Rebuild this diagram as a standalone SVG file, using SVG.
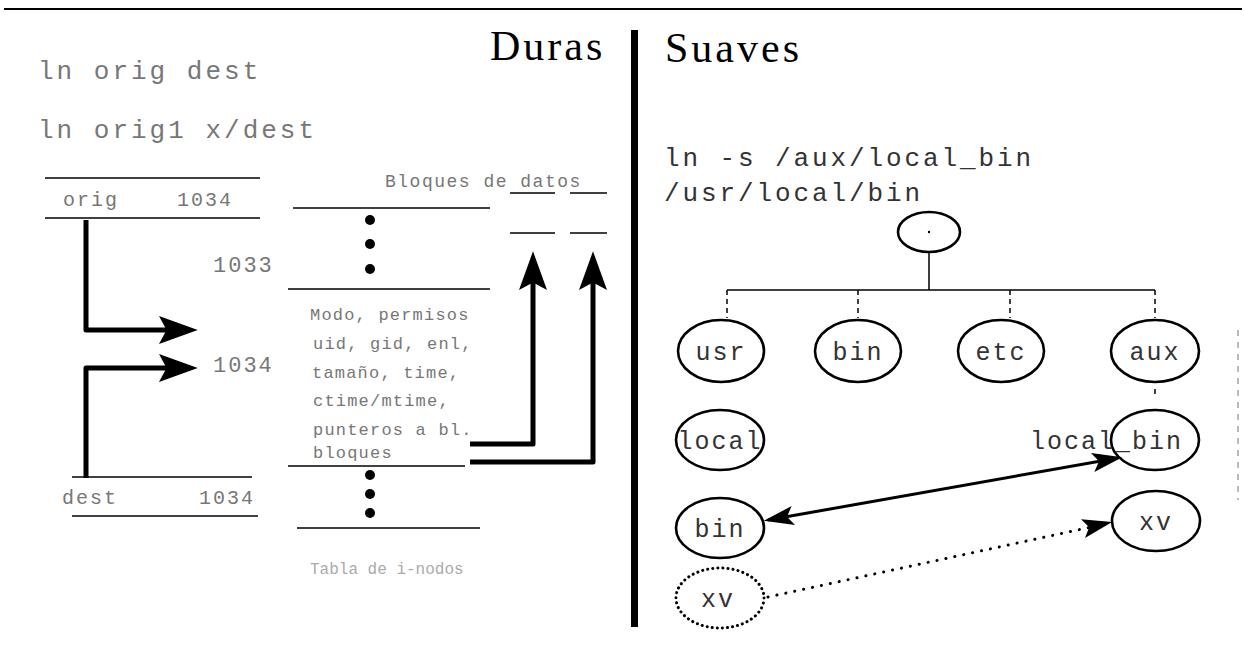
<svg xmlns="http://www.w3.org/2000/svg" width="1244" height="649" viewBox="0 0 1244 649">
<style>
.mono{font-family:"Liberation Mono","DejaVu Sans Mono",monospace;}
.faint{fill:#777;}
.title{font-family:"Liberation Serif","DejaVu Serif",serif;font-size:42px;letter-spacing:3px;fill:#000;}
.thin{stroke:#000;stroke-width:1.5;fill:none;}
.node{fill:#fff;stroke:#000;stroke-width:2.6;}
.lbl{font-family:"Liberation Mono","DejaVu Sans Mono",monospace;font-size:25px;letter-spacing:2px;fill:#333;text-anchor:middle;}
.thick{stroke:#000;stroke-width:5;fill:none;stroke-linejoin:round;}
</style>
<defs>
<marker id="big" markerUnits="userSpaceOnUse" markerWidth="40" markerHeight="28" viewBox="0 0 36 26" refX="26" refY="13" orient="auto">
<path d="M0,0 L36,13 L0,26 L7,13 z" fill="#000"/>
</marker>
<marker id="small" markerUnits="userSpaceOnUse" markerWidth="30" markerHeight="20" viewBox="0 0 28 18" refX="24" refY="9" orient="auto-start-reverse">
<path d="M0,0 L28,9 L0,18 L6,9 z" fill="#000"/>
</marker>
</defs>
<rect width="1244" height="649" fill="#fff"/>

<!-- frame -->
<line x1="4" y1="9" x2="1242" y2="9" stroke="#000" stroke-width="2"/>
<rect x="631" y="30" width="7" height="597" fill="#000"/>
<line x1="1238" y1="330" x2="1238" y2="500" stroke="#bbb" stroke-width="2" stroke-dasharray="6 6"/>

<!-- titles -->
<text class="title" x="490" y="60">Duras</text>
<text class="title" x="665" y="62">Suaves</text>

<!-- left: hard link -->
<g id="cmd-left">
<text class="mono faint" x="38" y="79" font-size="26" letter-spacing="3">ln orig dest</text>
<text class="mono faint" x="38" y="138" font-size="26" letter-spacing="3">ln orig1 x/dest</text>
</g>
<g id="dir-orig">
<line class="thin" x1="45" y1="178" x2="260" y2="178"/>
<line class="thin" x1="45" y1="218" x2="260" y2="218"/>
<text class="mono faint" x="63" y="206" font-size="20" letter-spacing="2">orig</text>
<text class="mono faint" x="233" y="206" font-size="20" letter-spacing="2" text-anchor="end">1034</text>
</g>
<g id="dir-dest">
<line class="thin" x1="72" y1="477" x2="252" y2="477"/>
<line class="thin" x1="72" y1="516" x2="258" y2="516"/>
<text class="mono faint" x="62" y="504" font-size="20" letter-spacing="2">dest</text>
<text class="mono faint" x="255" y="504" font-size="20" letter-spacing="2" text-anchor="end">1034</text>
</g>
<g id="inode-nums">
<text class="mono faint" x="213" y="272" font-size="22" letter-spacing="2">1033</text>
<text class="mono faint" x="213" y="372" font-size="22" letter-spacing="2">1034</text>
</g>
<g id="inode-table">
<line class="thin" x1="293" y1="208" x2="490" y2="208"/>
<circle cx="370" cy="220" r="5" fill="#000"/>
<circle cx="370" cy="244" r="5" fill="#000"/>
<circle cx="370" cy="269" r="5" fill="#000"/>
<line class="thin" x1="288" y1="289" x2="490" y2="289"/>
<g class="mono faint" font-size="17" letter-spacing="1.2">
<text x="310" y="320">Modo, permisos</text>
<text x="313" y="349">uid, gid, enl,</text>
<text x="312" y="378">tamaño, time,</text>
<text x="313" y="406">ctime/mtime,</text>
<text x="313" y="435">punteros a bl.</text>
<text x="313" y="458">bloques</text>
</g>
<line class="thin" x1="288" y1="466" x2="465" y2="466"/>
<circle cx="370" cy="475" r="5" fill="#000"/>
<circle cx="370" cy="494" r="5" fill="#000"/>
<circle cx="370" cy="513" r="5" fill="#000"/>
<line class="thin" x1="297" y1="528" x2="480" y2="528"/>
<text class="mono" x="310" y="574" font-size="16" fill="#aaa">Tabla de i-nodos</text>
</g>
<g id="blocks">
<text class="mono faint" x="385" y="187" font-size="18" letter-spacing="1.5">Bloques de datos</text>
<line class="thin" x1="510" y1="193" x2="555" y2="193"/>
<line class="thin" x1="570" y1="193" x2="607" y2="193"/>
<line class="thin" x1="510" y1="233" x2="555" y2="233"/>
<line class="thin" x1="570" y1="233" x2="607" y2="233"/>
</g>

<g id="connectors-left">
<path class="thick" d="M86,220 V330 H187" marker-end="url(#big)"/>
<path class="thick" d="M86,478 V368 H187" marker-end="url(#big)"/>
<path class="thick" d="M470,444 H533 V262" marker-end="url(#big)"/>
<path class="thick" d="M470,462 H593 V262" marker-end="url(#big)"/>
</g>

<!-- right: soft link -->
<g id="cmd-right">
<text class="mono" x="664" y="166" font-size="26" letter-spacing="2.9" fill="#333">ln -s /aux/local_bin</text>
<text class="mono" x="664" y="201" font-size="26" letter-spacing="2.9" fill="#333">/usr/local/bin</text>
</g>

<g id="tree-lines">
<line class="thin" x1="929" y1="252" x2="929" y2="290"/>
<line class="thin" x1="727" y1="290" x2="1155" y2="290"/>
<g stroke="#000" stroke-width="1.5" stroke-dasharray="5 4">
<line x1="727" y1="290" x2="727" y2="318"/>
<line x1="858" y1="290" x2="858" y2="318"/>
<line x1="1010" y1="290" x2="1010" y2="318"/>
<line x1="1155" y1="290" x2="1155" y2="318"/>
<line x1="1155" y1="389" x2="1155" y2="398"/>
</g>
</g>

<g id="root"><ellipse class="node" cx="929" cy="232" rx="31" ry="20"/><circle cx="929" cy="232" r="1.2" fill="#000"/></g>
<g id="usr"><ellipse class="node" cx="721" cy="351" rx="43" ry="31"/><text class="lbl" x="721" y="360">usr</text></g>
<g id="bin1"><ellipse class="node" cx="858" cy="351" rx="43" ry="31"/><text class="lbl" x="858" y="360">bin</text></g>
<g id="etc"><ellipse class="node" cx="1001" cy="351" rx="43" ry="31"/><text class="lbl" x="1001" y="360">etc</text></g>
<g id="aux"><ellipse class="node" cx="1155" cy="351" rx="44" ry="31"/><text class="lbl" x="1155" y="360">aux</text></g>
<g id="local"><ellipse class="node" cx="720" cy="440" rx="44" ry="30"/><text class="lbl" x="720" y="449">local</text></g>
<g id="local_bin"><ellipse class="node" cx="1155" cy="440" rx="44" ry="30"/><text class="mono" x="1030" y="449" font-size="25" letter-spacing="2" fill="#333">local_bin</text></g>
<g id="bin2"><ellipse class="node" cx="720" cy="528" rx="44" ry="30"/><text class="lbl" x="720" y="537">bin</text></g>
<g id="xv"><ellipse class="node" cx="1156" cy="521" rx="44" ry="30"/><text class="lbl" x="1156" y="530" fill="#888">xv</text></g>
<g id="xv-dotted"><ellipse cx="720" cy="598" rx="44" ry="30" fill="#fff" stroke="#000" stroke-width="3" stroke-dasharray="0.1 5" stroke-linecap="round"/><text class="lbl" x="718" y="607" fill="#888">xv</text></g>

<g id="connectors-right">
<line x1="768" y1="520" x2="1118" y2="458" stroke="#000" stroke-width="3" marker-start="url(#small)" marker-end="url(#small)"/>
<line x1="768" y1="597" x2="1096" y2="526" stroke="#000" stroke-width="3" stroke-dasharray="0.1 9" stroke-linecap="round"/>
<line x1="1090" y1="527" x2="1108" y2="523" stroke="#000" stroke-width="1" marker-end="url(#small)"/>
</g>
</svg>
